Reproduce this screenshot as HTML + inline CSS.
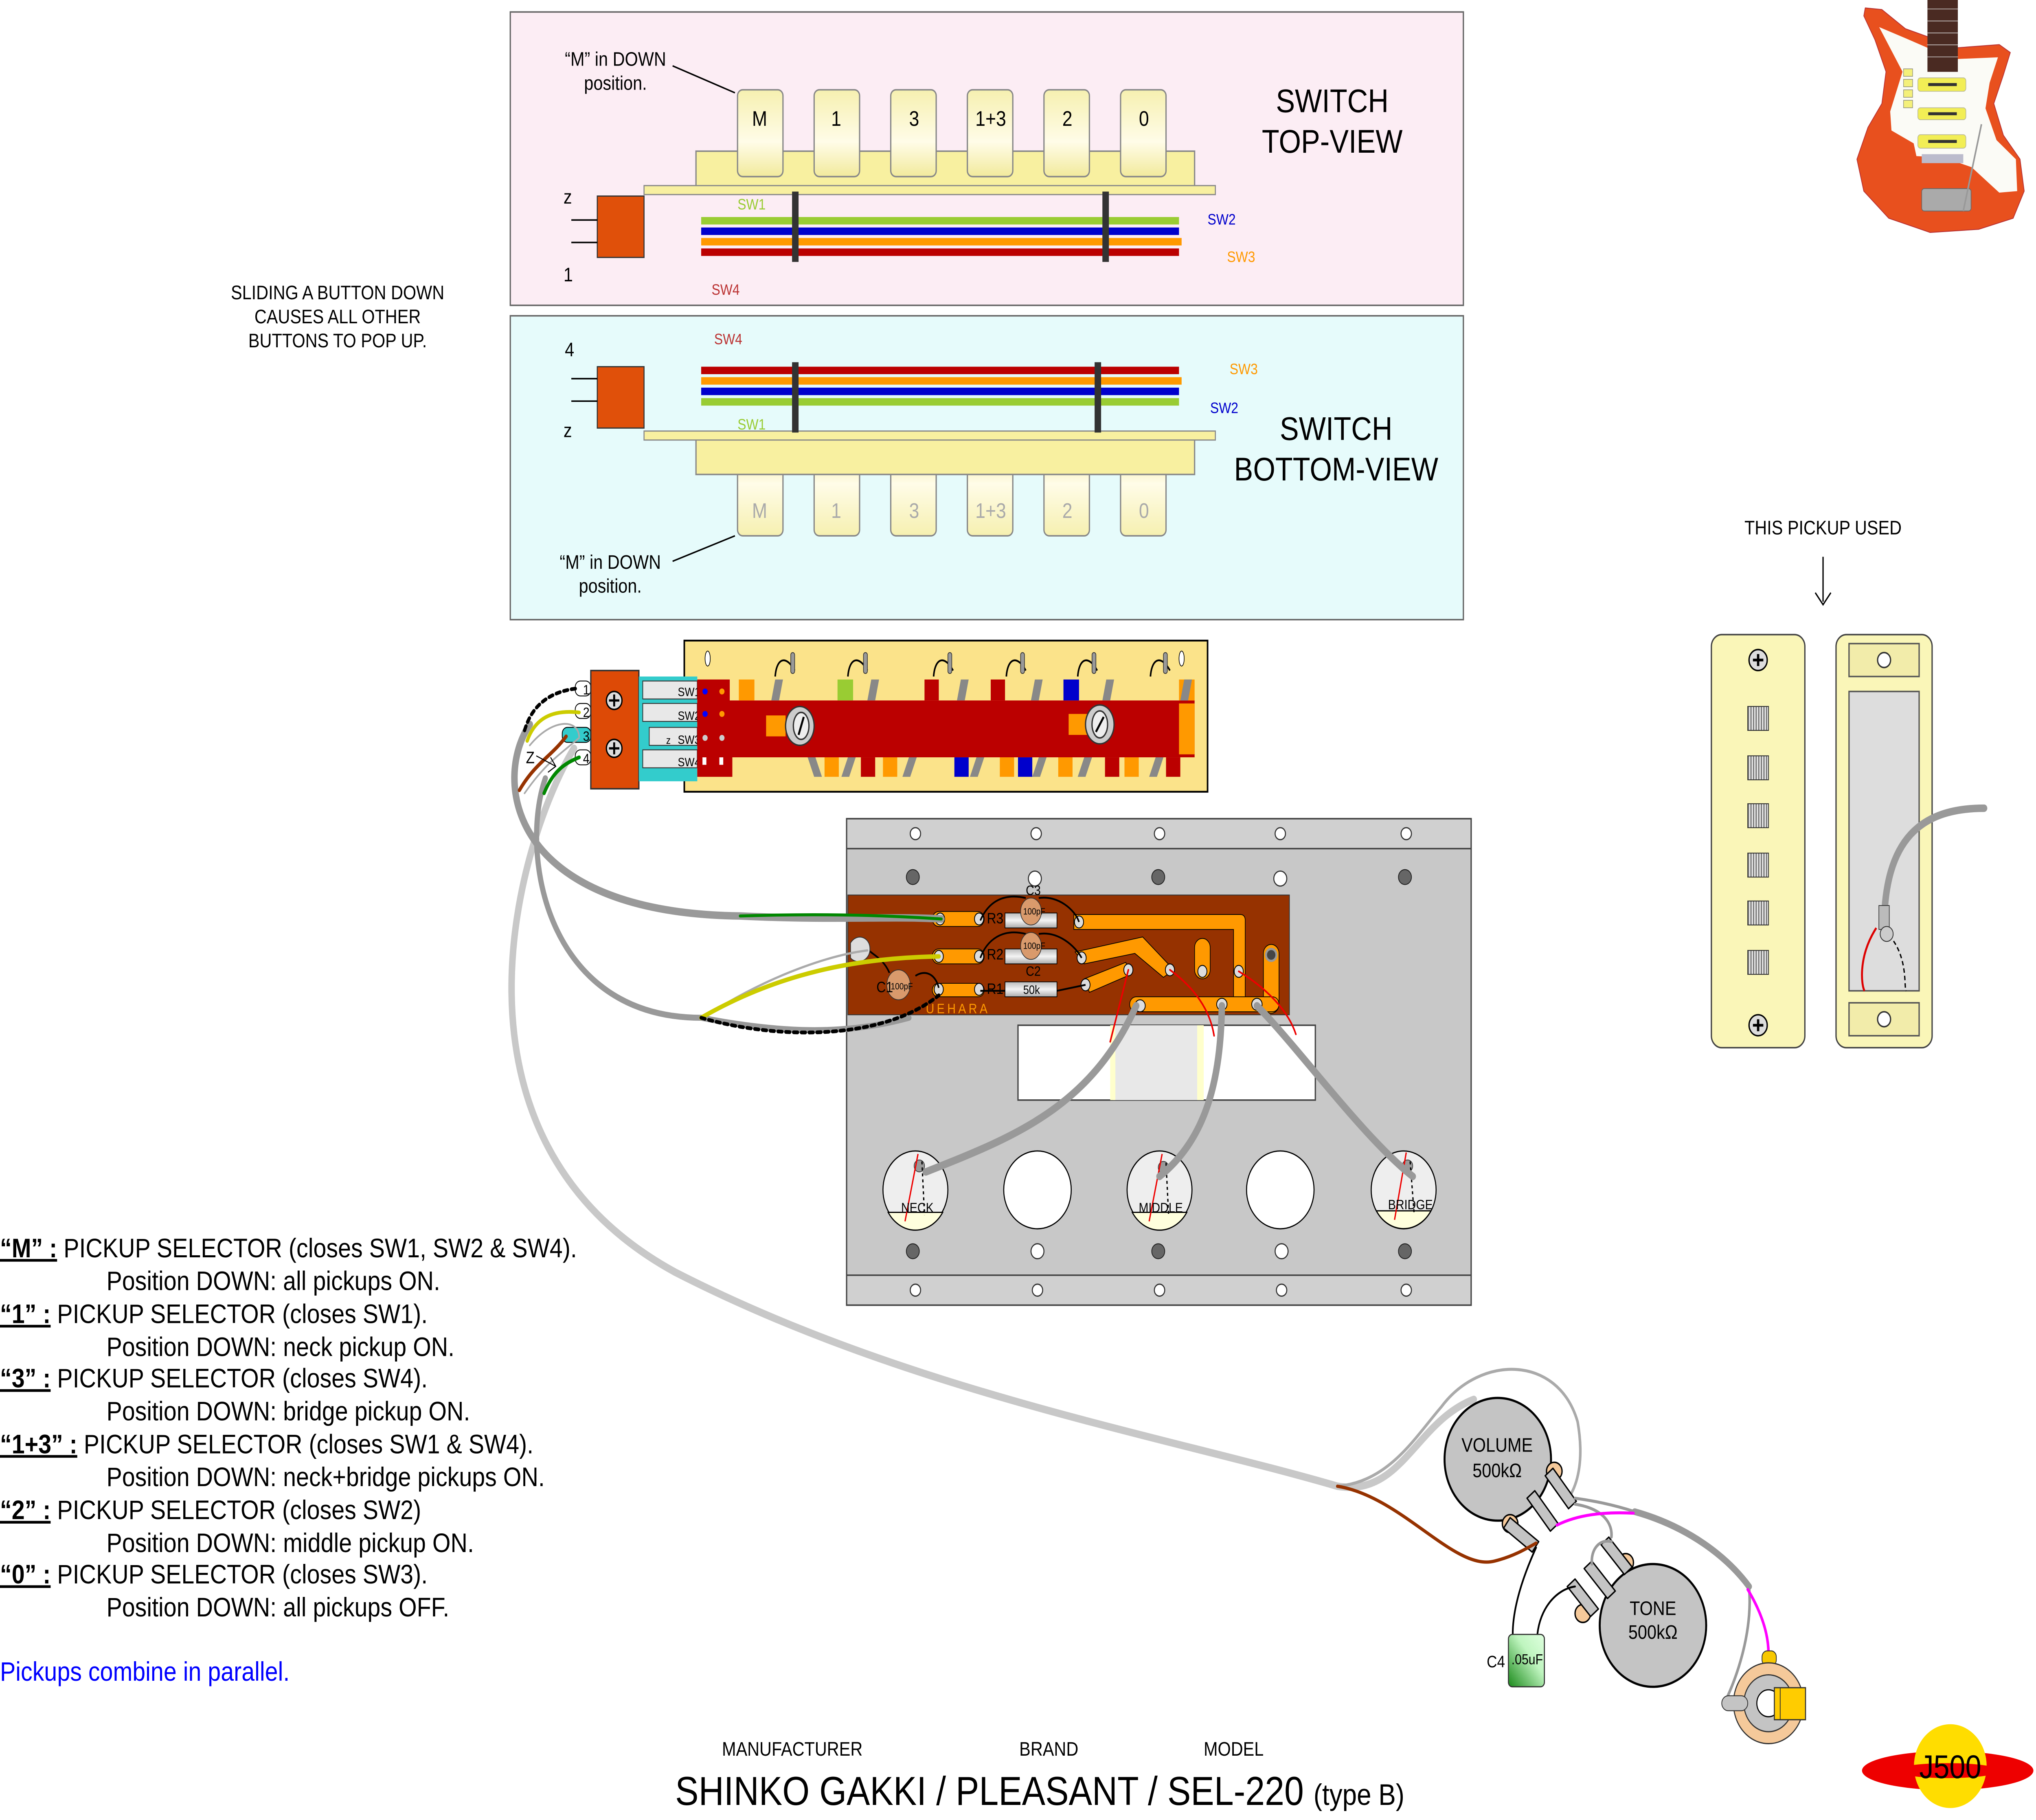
<!DOCTYPE html>
<html><head><meta charset="utf-8">
<style>
html,body{margin:0;padding:0;background:#fff;overflow:hidden;width:100%;height:100%;}
svg{display:block;width:100vw;height:100vh;}
text{font-family:"Liberation Sans",sans-serif;}
</style></head>
<body>
<svg viewBox="0 0 1568 1216" preserveAspectRatio="none" xmlns="http://www.w3.org/2000/svg">
<defs>
<linearGradient id="btn" x1="0" y1="0" x2="0" y2="1"><stop offset="0" stop-color="#f6f0b0"/><stop offset="0.6" stop-color="#fffce8"/><stop offset="1" stop-color="#f2ea9c"/></linearGradient>
<linearGradient id="btn2" x1="0" y1="1" x2="0" y2="0"><stop offset="0" stop-color="#f6f0b0"/><stop offset="0.6" stop-color="#fffce8"/><stop offset="1" stop-color="#f2ea9c"/></linearGradient>
<linearGradient id="cap" x1="0" y1="1" x2="1" y2="0"><stop offset="0" stop-color="#1a8a1a"/><stop offset="0.6" stop-color="#bff5bf"/><stop offset="1" stop-color="#dfffdf"/></linearGradient>
<linearGradient id="res" x1="0" y1="0" x2="0" y2="1"><stop offset="0" stop-color="#bbb"/><stop offset="0.5" stop-color="#f4f4f4"/><stop offset="1" stop-color="#aaa"/></linearGradient>
<pattern id="pole" width="2" height="4" patternUnits="userSpaceOnUse"><rect width="2" height="4" fill="#eee"/><rect width="1" height="4" fill="#777"/></pattern>
</defs>

<!-- TOP VIEW -->
<rect x="393" y="8" width="734" height="196" fill="#fcedf4" stroke="#666" stroke-width="1"/>
<text x="474" y="44" font-size="13" text-anchor="middle">“M” in DOWN</text>
<text x="474" y="60" font-size="13" text-anchor="middle">position.</text>
<line x1="518" y1="44" x2="566" y2="62" stroke="#000" stroke-width="1"/>
<text x="1026" y="75" font-size="22" text-anchor="middle">SWITCH</text>
<text x="1026" y="102" font-size="22" text-anchor="middle">TOP-VIEW</text>
<g stroke="#888" stroke-width="1">
<rect x="536" y="101" width="384" height="27" fill="#f8f0a0"/>
<rect x="568" y="60" width="35" height="58" rx="4" fill="url(#btn)"/>
<rect x="627" y="60" width="35" height="58" rx="4" fill="url(#btn)"/>
<rect x="686" y="60" width="35" height="58" rx="4" fill="url(#btn)"/>
<rect x="745" y="60" width="35" height="58" rx="4" fill="url(#btn)"/>
<rect x="804" y="60" width="35" height="58" rx="4" fill="url(#btn)"/>
<rect x="863" y="60" width="35" height="58" rx="4" fill="url(#btn)"/>
</g>
<g font-size="14" text-anchor="middle">
<text x="585" y="84">M</text><text x="644" y="84">1</text><text x="704" y="84">3</text><text x="763" y="84">1+3</text><text x="822" y="84">2</text><text x="881" y="84">0</text></g>
<rect x="460" y="131" width="36" height="41" fill="#e0500a" stroke="#333" stroke-width="0.8"/>
<rect x="496" y="124" width="440" height="6" fill="#f8f0a0" stroke="#888" stroke-width="0.8"/>
<rect x="540" y="145" width="368" height="5" fill="#9c3"/>
<rect x="540" y="152" width="368" height="5" fill="#00c"/>
<rect x="540" y="159" width="370" height="5" fill="#f90"/>
<rect x="540" y="166" width="368" height="5" fill="#b00"/>
<rect x="610" y="128" width="5" height="47" fill="#333"/><rect x="849" y="128" width="5" height="47" fill="#333"/>
<g stroke="#000" stroke-width="1" fill="none"><line x1="440" y1="147" x2="460" y2="147"/><line x1="440" y1="162" x2="460" y2="162"/></g>
<text x="434" y="136" font-size="13">z</text><text x="434" y="188" font-size="13">1</text>
<g font-size="10"><text x="568" y="140" fill="#9c3">SW1</text><text x="930" y="150" fill="#00c">SW2</text><text x="945" y="175" fill="#f90">SW3</text><text x="548" y="197" fill="#b33">SW4</text></g>

<!-- BOTTOM VIEW -->
<rect x="393" y="211" width="734" height="203" fill="#e6fbfb" stroke="#666" stroke-width="1"/>
<text x="1029" y="294" font-size="22" text-anchor="middle">SWITCH</text>
<text x="1029" y="321" font-size="22" text-anchor="middle">BOTTOM-VIEW</text>
<text x="470" y="380" font-size="13" text-anchor="middle">“M” in DOWN</text>
<text x="470" y="396" font-size="13" text-anchor="middle">position.</text>
<line x1="518" y1="375" x2="566" y2="358" stroke="#000" stroke-width="1"/>
<g stroke="#888" stroke-width="1">
<rect x="568" y="300" width="35" height="58" rx="4" fill="url(#btn2)"/>
<rect x="627" y="300" width="35" height="58" rx="4" fill="url(#btn2)"/>
<rect x="686" y="300" width="35" height="58" rx="4" fill="url(#btn2)"/>
<rect x="745" y="300" width="35" height="58" rx="4" fill="url(#btn2)"/>
<rect x="804" y="300" width="35" height="58" rx="4" fill="url(#btn2)"/>
<rect x="863" y="300" width="35" height="58" rx="4" fill="url(#btn2)"/>
<rect x="536" y="290" width="384" height="27" fill="#f8f0a0"/>
</g>
<g font-size="14" text-anchor="middle" fill="#aaa">
<text x="585" y="346">M</text><text x="644" y="346">1</text><text x="704" y="346">3</text><text x="763" y="346">1+3</text><text x="822" y="346">2</text><text x="881" y="346">0</text></g>
<rect x="460" y="245" width="36" height="41" fill="#e0500a" stroke="#333" stroke-width="0.8"/>
<rect x="496" y="288" width="440" height="6" fill="#f8f0a0" stroke="#888" stroke-width="0.8"/>
<rect x="540" y="245" width="368" height="5" fill="#b00"/>
<rect x="540" y="252" width="370" height="5" fill="#f90"/>
<rect x="540" y="259" width="368" height="5" fill="#00c"/>
<rect x="540" y="266" width="368" height="5" fill="#9c3"/>
<rect x="610" y="242" width="5" height="47" fill="#333"/><rect x="843" y="242" width="5" height="47" fill="#333"/>
<g stroke="#000" stroke-width="1"><line x1="440" y1="253" x2="460" y2="253"/><line x1="440" y1="268" x2="460" y2="268"/></g>
<text x="435" y="238" font-size="13">4</text><text x="434" y="292" font-size="13">z</text>
<g font-size="10"><text x="550" y="230" fill="#b33">SW4</text><text x="947" y="250" fill="#f90">SW3</text><text x="932" y="276" fill="#00c">SW2</text><text x="568" y="287" fill="#9c3">SW1</text></g>

<text x="260" y="200" font-size="13" text-anchor="middle">SLIDING A BUTTON DOWN</text>
<text x="260" y="216" font-size="13" text-anchor="middle">CAUSES ALL OTHER</text>
<text x="260" y="232" font-size="13" text-anchor="middle">BUTTONS TO POP UP.</text>

<!-- SWITCH BOARD -->
<rect x="527" y="428" width="403" height="101" fill="#fbe38a" stroke="#000" stroke-width="1.2"/>
<g fill="#fff" stroke="#000" stroke-width="0.6"><rect x="443" y="455" width="12" height="10" rx="4"/><rect x="443" y="470" width="12" height="10" rx="4"/><rect x="433" y="486" width="22" height="10" rx="4" fill="#3cc"/><rect x="443" y="501" width="12" height="10" rx="4"/></g>
<g font-size="9"><text x="449" y="464">1</text><text x="449" y="479">2</text><text x="449" y="495">3</text><text x="449" y="510">4</text></g>
<rect x="455" y="448" width="37" height="79" fill="#dd4a06" stroke="#333"/>
<rect x="492" y="452" width="45" height="70" fill="#3cc"/>
<g fill="#e8e8e8" stroke="#333" stroke-width="0.6">
<rect x="495" y="455" width="42" height="12"/><rect x="495" y="470" width="42" height="12"/><rect x="500" y="486" width="37" height="12"/><rect x="495" y="501" width="42" height="12"/></g>
<g font-size="8"><text x="522" y="465">SW1</text><text x="522" y="481">SW2</text><text x="522" y="497">SW3</text><text x="522" y="512">SW4</text><text x="513" y="497" font-size="7">z</text></g>
<circle cx="473" cy="468" r="6" fill="#ddd" stroke="#000"/><circle cx="473" cy="500" r="6" fill="#ddd" stroke="#000"/>
<path d="M469 468h8M473 464v8M469 500h8M473 496v8" stroke="#000" stroke-width="1.5"/>
<path d="M537 454h25v14h358v38H564v13H537z" fill="#b00"/>
<g><circle cx="543" cy="462" r="2" fill="#00f"/><circle cx="556" cy="462" r="2" fill="#f90"/><circle cx="543" cy="477" r="2" fill="#00f"/><circle cx="556" cy="477" r="2" fill="#f90"/><circle cx="543" cy="493" r="2" fill="#ccc"/><circle cx="556" cy="493" r="2" fill="#ccc"/><rect x="541" y="506" width="3" height="5" fill="#fff"/><rect x="554" y="506" width="3" height="5" fill="#fff"/></g>
<rect x="569" y="454" width="12" height="14" fill="#f90"/>
<rect x="645" y="454" width="12" height="14" fill="#9c3"/>
<rect x="819" y="454" width="12" height="14" fill="#00c"/>
<rect x="908" y="454" width="12" height="14" fill="#f90"/>
<rect x="908" y="470" width="12" height="34" fill="#f90"/>
<g fill="#f90"><rect x="635" y="506" width="11" height="13"/><rect x="680" y="506" width="11" height="13"/><rect x="770" y="506" width="11" height="13"/><rect x="815" y="506" width="11" height="13"/><rect x="866" y="506" width="11" height="13"/></g>
<g fill="#00c"><rect x="735" y="506" width="11" height="13"/><rect x="784" y="506" width="11" height="13"/></g>
<g fill="#b00"><rect x="663" y="506" width="11" height="13"/><rect x="851" y="506" width="11" height="13"/><rect x="898" y="506" width="11" height="13"/><rect x="712" y="454" width="11" height="14"/><rect x="763" y="454" width="11" height="14"/></g>
<g fill="#888"><polygon points="622,506 628,506 633,519 627,519"/><polygon points="653,506 659,506 654,519 648,519"/><polygon points="700,506 706,506 701,519 695,519"/><polygon points="752,506 758,506 753,519 747,519"/><polygon points="800,506 806,506 801,519 795,519"/><polygon points="835,506 841,506 836,519 830,519"/><polygon points="890,506 896,506 891,519 885,519"/>
<polygon points="597,454 603,454 600,468 594,468"/><polygon points="671,454 677,454 674,468 668,468"/><polygon points="740,454 746,454 743,468 737,468"/><polygon points="797,454 803,454 800,468 794,468"/><polygon points="852,454 858,454 855,468 849,468"/><polygon points="912,454 918,454 915,468 909,468"/></g>
<g fill="none" stroke="#000" stroke-width="1.2"><path d="M597 452 C598 440 605 437 612 448"/><path d="M653 452 C654 440 661 437 668 448"/><path d="M719 452 C720 440 727 437 734 448"/><path d="M775 452 C776 440 783 437 790 448"/><path d="M830 452 C831 440 838 437 845 448"/><path d="M886 452 C887 440 894 437 901 448"/></g>
<g fill="#999" stroke="#333" stroke-width="0.5"><rect x="609" y="436" width="3" height="14" rx="1.5"/><rect x="665" y="436" width="3" height="14" rx="1.5"/><rect x="730" y="436" width="3" height="14" rx="1.5"/><rect x="786" y="436" width="3" height="14" rx="1.5"/><rect x="841" y="436" width="3" height="14" rx="1.5"/><rect x="896" y="436" width="3" height="14" rx="1.5"/></g>
<rect x="590" y="478" width="15" height="14" fill="#f90"/><rect x="823" y="477" width="15" height="14" fill="#f90"/>
<ellipse cx="616" cy="485" rx="11" ry="13" fill="#ccc" stroke="#333"/><ellipse cx="847" cy="484" rx="11" ry="13" fill="#ccc" stroke="#333"/>
<ellipse cx="617" cy="485" rx="6" ry="9" fill="#eee" stroke="#333"/><ellipse cx="847" cy="484" rx="6" ry="9" fill="#eee" stroke="#333"/>
<path d="M615 491 L619 479 M844 489 L850 479" stroke="#000" stroke-width="1.5"/>
<g fill="#fff" stroke="#000" stroke-width="0.5"><ellipse cx="545" cy="440" rx="2" ry="5"/><ellipse cx="910" cy="440" rx="2" ry="5"/></g>

<!-- CHASSIS -->
<rect x="652" y="547" width="481" height="325" fill="#c8c8c8" stroke="#444" stroke-width="1"/>
<rect x="652" y="547" width="481" height="20" fill="#d0d0d0" stroke="#444" stroke-width="1"/>
<rect x="652" y="852" width="481" height="20" fill="#d0d0d0" stroke="#444" stroke-width="1"/>
<g fill="#fff" stroke="#333" stroke-width="0.8">
<circle cx="705" cy="557" r="4"/><circle cx="798" cy="557" r="4"/><circle cx="893" cy="557" r="4"/><circle cx="986" cy="557" r="4"/><circle cx="1083" cy="557" r="4"/>
<circle cx="705" cy="862" r="4"/><circle cx="799" cy="862" r="4"/><circle cx="893" cy="862" r="4"/><circle cx="987" cy="862" r="4"/><circle cx="1083" cy="862" r="4"/>
<circle cx="797" cy="587" r="5"/><circle cx="986" cy="587" r="5"/><circle cx="799" cy="836" r="5"/><circle cx="987" cy="836" r="5"/>
</g>
<g fill="#666" stroke="#222" stroke-width="0.6"><circle cx="703" cy="586" r="5"/><circle cx="892" cy="586" r="5"/><circle cx="1082" cy="586" r="5"/><circle cx="703" cy="836" r="5"/><circle cx="892" cy="836" r="5"/><circle cx="1082" cy="836" r="5"/></g>
<!-- PCB -->
<rect x="653" y="598" width="340" height="80" fill="#963200" stroke="#333" stroke-width="0.6"/>
<g fill="#f90" stroke="#000" stroke-width="0.5">
<rect x="718" y="609" width="40" height="10" rx="5"/><rect x="718" y="634" width="40" height="10" rx="5"/><rect x="718" y="657" width="40" height="9" rx="4.5"/>
<path d="M827 611 H955 Q959 611 959 615 V668 H950 V621 H827z"/>
<polygon points="828,636 880,626 904,648 896,653 874,637 835,644"/>
<path d="M835 654 L867 643 L871 651 L839 663z"/>
<rect x="920" y="627" width="12" height="27" rx="6"/>
<rect x="973" y="631" width="12" height="46" rx="6"/>
<rect x="870" y="666" width="115" height="10" rx="5"/>
</g>
<circle cx="979" cy="638" r="4" fill="#444" stroke="#999" stroke-width="1.5"/>
<g fill="#ddd" stroke="#000" stroke-width="0.6"><ellipse cx="724" cy="614" rx="3.5" ry="4"/><ellipse cx="754" cy="614" rx="3.5" ry="4"/><ellipse cx="831" cy="616" rx="3.5" ry="4"/><ellipse cx="723" cy="639" rx="3.5" ry="4"/><ellipse cx="754" cy="639" rx="3.5" ry="4"/><ellipse cx="833" cy="640" rx="3.5" ry="4"/><ellipse cx="723" cy="661" rx="3.5" ry="4"/><ellipse cx="754" cy="661" rx="3.5" ry="4"/><ellipse cx="836" cy="658" rx="3.5" ry="4"/><ellipse cx="869" cy="648" rx="3.5" ry="4"/><ellipse cx="901" cy="648" rx="3.5" ry="4"/><ellipse cx="926" cy="649" rx="3.5" ry="4"/><ellipse cx="954" cy="649" rx="3.5" ry="4"/><ellipse cx="878" cy="672" rx="4" ry="4"/><ellipse cx="941" cy="671" rx="4" ry="4"/><ellipse cx="968" cy="671" rx="4" ry="4"/></g>
<g fill="url(#res)" stroke="#000" stroke-width="0.5"><rect x="774" y="610" width="40" height="10"/><rect x="774" y="634" width="40" height="10"/><rect x="774" y="656" width="40" height="10"/></g>
<g fill="none" stroke="#000" stroke-width="1.2"><path d="M755 615 C760 605 770 596 790 600 M800 600 C815 598 828 608 831 616 M755 640 C760 628 772 620 790 624 M800 624 C815 622 828 632 833 640 M755 662 L774 662 M814 662 L836 658 M723 660 C720 650 712 648 705 652 M685 650 C680 640 672 638 668 634"/></g>
<g fill="#d99a6c" stroke="#333" stroke-width="0.5"><ellipse cx="794" cy="609" rx="8" ry="9"/><ellipse cx="794" cy="632" rx="8" ry="9"/><ellipse cx="692" cy="658" rx="9" ry="10"/></g>
<g font-size="6"><text x="788" y="611">100pF</text><text x="788" y="634">100pF</text><text x="686" y="661">100pF</text></g>
<g font-size="10"><text x="760" y="617">R3</text><text x="760" y="641">R2</text><text x="760" y="664">R1</text><text x="675" y="663">C1</text><text x="788" y="664" font-size="8">50k</text></g>
<g font-size="9"><text x="790" y="598">C3</text><text x="790" y="652">C2</text></g>
<text x="713" y="677" font-size="9" fill="#f90" letter-spacing="2">UEHARA</text>
<path d="M655 630 C660 623 670 626 670 634 C670 642 660 645 655 640z" fill="#ddd" stroke="#333" stroke-width="0.6"/>
<rect x="784" y="685" width="229" height="50" fill="#fff" stroke="#444"/>
<rect x="857" y="685" width="70" height="50" fill="#e8e8e8"/>
<rect x="855" y="685" width="4" height="50" fill="#ffc"/><rect x="922" y="685" width="5" height="50" fill="#ffc"/>
<!-- pot holes -->
<g stroke="#000" stroke-width="0.8">
<ellipse cx="705" cy="795" rx="25" ry="26" fill="#eee"/><circle cx="799" cy="795" r="26" fill="#fff"/><ellipse cx="893" cy="795" rx="25" ry="26" fill="#eee"/><circle cx="986" cy="795" r="26" fill="#fff"/><ellipse cx="1081" cy="795" rx="25" ry="26" fill="#eee"/></g>
<g fill="#ffd" stroke="#000" stroke-width="0.8"><path d="M684 810 H726 A25 26 0 0 1 684 810z"/><path d="M872 810 H914 A25 26 0 0 1 872 810z"/><path d="M1060 809 H1102 A25 26 0 0 1 1060 809z"/></g>
<g fill="#999" stroke="#333" stroke-width="0.5"><circle cx="708" cy="779" r="4"/><circle cx="896" cy="780" r="4"/><circle cx="1084" cy="779" r="4"/></g>
<g stroke="#e00" stroke-width="1" fill="none"><path d="M707 771 L697 816"/><path d="M895 771 L885 816"/><path d="M1083 770 L1074 815"/></g>
<g stroke="#000" stroke-width="1" fill="none" stroke-dasharray="2 2"><path d="M710 776 L712 812"/><path d="M898 777 L900 812"/><path d="M1086 776 L1089 810"/></g>
<g font-size="9"><text x="694" y="810">NECK</text><text x="877" y="810">MIDDLE</text><text x="1069" y="808">BRIDGE</text></g>

<!-- WIRES -->
<g fill="none" stroke-linecap="round">
<path d="M442 500 C400 560 330 760 520 850 C700 930 900 960 1030 993 C1080 1000 1090 950 1135 935" stroke="#c8c8c8" stroke-width="5"/>
<path d="M408 484 C380 520 390 610 570 612 C640 615 690 612 725 614" stroke="#999" stroke-width="5"/>
<path d="M420 520 C400 570 420 680 540 680 C600 690 650 692 700 680" stroke="#999" stroke-width="4"/>
<path d="M570 612 C640 610 690 612 725 614" stroke="#080" stroke-width="2"/>
<path d="M668 635 C640 638 600 650 560 670" stroke="#aaa" stroke-width="1.5"/>
<path d="M723 639 C660 640 600 650 540 680" stroke="#cc0" stroke-width="3"/>
<path d="M540 680 C600 695 680 695 723 665" stroke="#000" stroke-width="2.5" stroke-dasharray="3 3"/>
<path d="M404 488 C410 470 425 462 444 460" stroke="#000" stroke-width="2.5" stroke-dasharray="3 3"/>
<path d="M406 495 C412 480 425 474 446 476" stroke="#cc0" stroke-width="2.5"/>
<path d="M400 528 C412 510 425 505 436 492" stroke="#963200" stroke-width="2.5"/>
<path d="M419 530 C426 515 435 510 446 506" stroke="#080" stroke-width="2.5"/>
<path d="M404 530 C420 510 430 505 446 493 M408 498 C425 480 445 480 446 492" stroke="#aaa" stroke-width="1.2"/>
<path d="M713 783 C780 760 840 740 875 672" stroke="#999" stroke-width="5"/>
<path d="M893 786 C930 760 940 720 941 672" stroke="#999" stroke-width="5"/>
<path d="M1088 786 C1050 760 1000 700 968 672" stroke="#999" stroke-width="5"/>
<path d="M869 648 L855 696" stroke="#e00" stroke-width="1.2"/>
<path d="M901 648 C920 660 932 675 935 692" stroke="#e00" stroke-width="1.2"/>
<path d="M954 649 C975 660 992 675 998 691" stroke="#e00" stroke-width="1.2"/>
</g>
<text x="405" y="510" font-size="11">Z</text>
<path d="M413 505 L428 512 M424 506 L428 512 L422 516" stroke="#000" fill="none" stroke-width="0.7"/>

<!-- VOLUME / TONE -->
<g fill="none" stroke-linecap="round">
<path d="M1030 993 C1070 990 1090 960 1110 940 C1140 905 1200 905 1215 950 C1220 975 1215 990 1210 998" stroke="#aaa" stroke-width="2"/>
</g>
<ellipse cx="1153.5" cy="975" rx="41" ry="41" fill="#c4c4c4" stroke="#000" stroke-width="1.5"/>
<text x="1153" y="970" font-size="13" text-anchor="middle">VOLUME</text><text x="1153" y="987" font-size="13" text-anchor="middle">500kΩ</text>
<g stroke="#000" stroke-width="1" fill="#f5c99a"><circle cx="1197" cy="983" r="6"/><circle cx="1163" cy="1018" r="6"/></g>
<g stroke="#000" stroke-width="1" fill="#c4c4c4" stroke-linejoin="round">
<path d="M1196 981 L1214 1003 L1208 1008 L1190 986z"/><path d="M1182 996 L1200 1018 L1194 1023 L1176 1001z"/><path d="M1163 1014 L1185 1030 L1180 1037 L1158 1021z"/></g>
<ellipse cx="1273" cy="1086" rx="41" ry="41" fill="#c4c4c4" stroke="#000" stroke-width="1.5"/>
<g stroke="#000" stroke-width="1" fill="#f5c99a"><circle cx="1252" cy="1044" r="6"/><circle cx="1219" cy="1078" r="6"/></g>
<g stroke="#000" stroke-width="1" fill="#c4c4c4" stroke-linejoin="round">
<path d="M1213 1055 L1231 1075 L1225 1080 L1207 1060z"/><path d="M1226 1043 L1244 1063 L1238 1068 L1220 1048z"/><path d="M1239 1027 L1257 1047 L1251 1052 L1233 1032z"/></g>
<text x="1273" y="1079" font-size="13" text-anchor="middle">TONE</text><text x="1273" y="1095" font-size="13" text-anchor="middle">500kΩ</text>
<g fill="none" stroke-linecap="round">
<path d="M1030 993 C1080 1000 1120 1050 1151 1043 C1165 1040 1175 1035 1183 1031" stroke="#963200" stroke-width="2.2"/>
<path d="M1183 1034 C1172 1055 1165 1075 1165 1092" stroke="#000" stroke-width="1.3"/>
<path d="M1184 1092 C1186 1075 1198 1062 1213 1060" stroke="#000" stroke-width="1.3"/>
<path d="M1213 1001 C1230 1003 1245 1006 1259 1010" stroke="#999" stroke-width="2"/>
<path d="M1259 1010 C1300 1020 1330 1040 1347 1060" stroke="#999" stroke-width="4.5"/>
<path d="M1347 1060 C1350 1090 1338 1120 1328 1138" stroke="#999" stroke-width="2"/>
<path d="M1213 1005 C1235 1008 1242 1018 1241 1027" stroke="#999" stroke-width="2"/>
<path d="M1241 1030 C1232 1028 1225 1035 1226 1045" stroke="#999" stroke-width="2"/>
<path d="M1199 1019 C1215 1012 1235 1010 1258 1011" stroke="#f0f" stroke-width="2"/>
<path d="M1346 1062 C1355 1075 1362 1090 1362 1105" stroke="#f0f" stroke-width="2"/>
</g>
<rect x="1161.7" y="1092" width="27.7" height="35" rx="3" fill="url(#cap)" stroke="#333" stroke-width="0.8"/>
<text x="1145" y="1114" font-size="11">C4</text><text x="1164" y="1112" font-size="9.5">.05uF</text>
<!-- jack -->
<rect x="1357" y="1103" width="11" height="10" rx="4" fill="#f7c800" stroke="#333" stroke-width="0.6"/>
<circle cx="1362" cy="1138" r="27" fill="#f5c99a" stroke="#333" stroke-width="0.8"/>
<circle cx="1362" cy="1138" r="19" fill="#c4c4c4" stroke="#333" stroke-width="0.8"/>
<rect x="1326" y="1133" width="20" height="10" rx="5" fill="#c4c4c4" stroke="#333" stroke-width="0.6"/>
<circle cx="1362" cy="1138" r="9" fill="#fff" stroke="#000" stroke-width="0.8"/>
<rect x="1366.5" y="1127.6" width="24" height="21.4" fill="#fc0" stroke="#333" stroke-width="0.8"/>
<line x1="1371" y1="1128" x2="1371" y2="1149" stroke="#333" stroke-width="0.6"/>

<!-- PICKUPS -->
<text x="1404" y="357" font-size="13" text-anchor="middle">THIS PICKUP USED</text>
<path d="M1404 372v30M1398 396l6 8 6-8" stroke="#000" fill="none"/>
<rect x="1318" y="424" width="72" height="276" rx="8" fill="#faf6b8" stroke="#444"/>
<g fill="url(#pole)" stroke="#333" stroke-width="0.6"><rect x="1346" y="472" width="16" height="16"/><rect x="1346" y="505" width="16" height="16"/><rect x="1346" y="537" width="16" height="16"/><rect x="1346" y="570" width="16" height="16"/><rect x="1346" y="602" width="16" height="16"/><rect x="1346" y="635" width="16" height="16"/></g>
<circle cx="1354" cy="441" r="7" fill="#ddd" stroke="#000"/><circle cx="1354" cy="685" r="7" fill="#ddd" stroke="#000"/>
<path d="M1350 441h8M1354 437v8M1350 685h8M1354 681v8" stroke="#000" stroke-width="1.8"/>
<rect x="1414" y="424" width="74" height="276" rx="8" fill="#faf6b8" stroke="#444"/>
<rect x="1424" y="462" width="54" height="200" fill="#ddd" stroke="#555"/>
<rect x="1424" y="430" width="54" height="22" fill="#f2ecaa" stroke="#555"/><rect x="1424" y="670" width="54" height="22" fill="#f2ecaa" stroke="#555"/>
<circle cx="1451" cy="441" r="5" fill="#fff" stroke="#333"/><circle cx="1451" cy="681" r="5" fill="#fff" stroke="#333"/>
<path d="M1445 620 C1430 640 1434 660 1436 662" stroke="#d00" fill="none" stroke-width="1.5"/>
<path d="M1455 625 C1470 640 1466 660 1468 662" stroke="#000" fill="none" stroke-dasharray="3 2"/>
<path d="M1451 620 C1451 560 1480 540 1528 540" stroke="#999" fill="none" stroke-width="5" stroke-linecap="round"/>
<rect x="1447" y="605" width="8" height="16" fill="#bbb" stroke="#333" stroke-width="0.5"/>
<circle cx="1453" cy="624" r="5" fill="#ccc" stroke="#333" stroke-width="0.6"/>

<!-- GUITAR -->
<path d="M1436.5 5.3 L1449.3 6.4 L1467.4 19.2 L1484.4 24.5 L1507.8 31.9 L1539.7 29.8 L1548.2 35.1 L1542.9 50 L1535.5 69.2 L1542.9 90.4 L1555.7 106.4 L1558.9 127.7 L1550.4 145.8 L1523.8 153.2 L1486.5 155.3 L1454.6 145.8 L1435.4 127.7 L1430.1 106.4 L1438.6 85.1 L1449.3 69.2 L1452.5 47.9 L1444 26.6 L1435.4 10.6Z" fill="#e8501e" stroke="#b33" stroke-width="0.6" stroke-linejoin="round"/>
<path d="M1447.2 18.1 L1467.4 25.5 L1484.4 31.9 L1507.8 39.4 L1538.7 38.3 L1532.3 55.3 L1529.1 72.4 L1537.6 93.6 L1552.5 106.4 L1553.5 127.7 L1539.7 128.7 L1518.4 111.7 L1497.2 105.3 L1475.9 104.3 L1473.8 95.8 L1456.7 87.2 L1455.7 74.5 L1465.2 47.9Z" fill="#fbfbf6"/>
<rect x="1484.4" y="0" width="23.4" height="48" fill="#4a2a22"/>
<g stroke="#ddd" stroke-width="0.4"><line x1="1484" y1="6" x2="1508" y2="6"/><line x1="1484" y1="14" x2="1508" y2="14"/><line x1="1484" y1="22" x2="1508" y2="22"/><line x1="1484" y1="30" x2="1508" y2="30"/><line x1="1484" y1="38" x2="1508" y2="38"/></g>
<g fill="#f2ee55" stroke="#bb9" stroke-width="0.5"><rect x="1477" y="52" width="37" height="9" rx="2"/><rect x="1477" y="72" width="37" height="8" rx="2"/><rect x="1477" y="90" width="37" height="9" rx="2"/></g>
<g fill="#333"><rect x="1485" y="55.5" width="22" height="2"/><rect x="1485" y="75" width="22" height="2"/><rect x="1485" y="93.5" width="22" height="2"/></g>
<g fill="#f4f07a" stroke="#887" stroke-width="0.4"><rect x="1466" y="46" width="7" height="5"/><rect x="1466" y="53" width="7" height="5"/><rect x="1466" y="60" width="7" height="5"/><rect x="1466" y="67" width="7" height="5"/></g>
<rect x="1480" y="126" width="38" height="15" rx="2" fill="#aaa" stroke="#666" stroke-width="0.5"/>
<rect x="1480" y="103" width="32" height="6" fill="#bbc"/>
<line x1="1526" y1="83" x2="1512" y2="141" stroke="#999" stroke-width="1.2"/>

<!-- LEFT TEXT -->
<g font-size="18">
<text x="0" y="840"><tspan font-weight="bold" text-decoration="underline">“M” :</tspan> PICKUP SELECTOR (closes SW1, SW2 &amp; SW4).</text>
<text x="82" y="862">Position DOWN: all pickups ON.</text>
<text x="0" y="884"><tspan font-weight="bold" text-decoration="underline">“1” :</tspan> PICKUP SELECTOR (closes SW1).</text>
<text x="82" y="906">Position DOWN: neck pickup ON.</text>
<text x="0" y="927"><tspan font-weight="bold" text-decoration="underline">“3” :</tspan> PICKUP SELECTOR (closes SW4).</text>
<text x="82" y="949">Position DOWN: bridge pickup ON.</text>
<text x="0" y="971"><tspan font-weight="bold" text-decoration="underline">“1+3” :</tspan> PICKUP SELECTOR (closes SW1 &amp; SW4).</text>
<text x="82" y="993">Position DOWN: neck+bridge pickups ON.</text>
<text x="0" y="1015"><tspan font-weight="bold" text-decoration="underline">“2” :</tspan> PICKUP SELECTOR (closes SW2)</text>
<text x="82" y="1037">Position DOWN: middle pickup ON.</text>
<text x="0" y="1058"><tspan font-weight="bold" text-decoration="underline">“0” :</tspan> PICKUP SELECTOR (closes SW3).</text>
<text x="82" y="1080">Position DOWN: all pickups OFF.</text>
<text x="0" y="1123" fill="#00f">Pickups combine in parallel.</text>
</g>

<!-- BOTTOM TITLE -->
<g font-size="13"><text x="556" y="1173">MANUFACTURER</text><text x="785" y="1173">BRAND</text><text x="927" y="1173">MODEL</text></g>
<text x="520" y="1206" font-size="27">SHINKO GAKKI  / PLEASANT / SEL-220 <tspan font-size="20">(type B)</tspan></text>

<!-- LOGO -->
<ellipse cx="1500" cy="1183" rx="66" ry="13" fill="#e00"/>
<circle cx="1502" cy="1180" r="28" fill="#fd0"/>
<ellipse cx="1500" cy="1183" rx="40" ry="5" fill="#e00"/>
<text x="1502" y="1188" font-size="22" text-anchor="middle">J500</text>
</svg>
</body></html>
